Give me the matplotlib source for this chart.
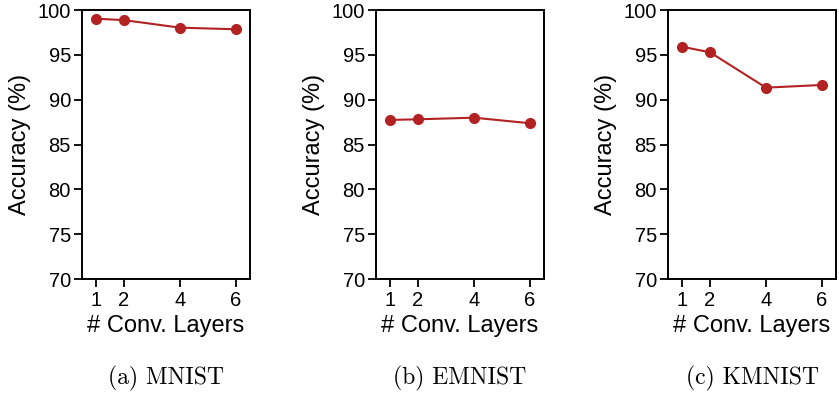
import matplotlib
matplotlib.use("Agg")
import matplotlib.pyplot as plt

layers = [1, 2, 4, 6]
mnist = [99.03, 98.87, 98.03, 97.85]
emnist = [87.74, 87.81, 87.99, 87.37]
kmnist = [95.91, 95.28, 91.34, 91.64]
captions = ["(a) MNIST", "(b) EMNIST", "(c) KMNIST"]
yticks = [70, 75, 80, 85, 90, 95, 100]

plt.rcParams["font.family"] = ["Liberation Sans", "DejaVu Sans"]

fig = plt.figure(figsize=(8.39, 3.95), dpi=100)
lefts = [82 / 839, 376 / 839, 668 / 839]
w = 168 / 839
bottom = 1 - 279 / 395
h = 269 / 395

for left, vals, cap in zip(lefts, [mnist, emnist, kmnist], captions):
    ax = fig.add_axes([left, bottom, w, h])
    ax.plot(layers, vals, color="#b22222", lw=1.5, marker="o", ms=7)
    ax.set_xlim(0.5, 6.5)
    ax.set_ylim(70, 100)
    ax.set_xticks(layers)
    ax.set_yticks(yticks)
    ax.tick_params(labelsize=14.5, length=6, width=1.3, direction="out", pad=2)
    ax.tick_params(axis="x", pad=3)
    for s in ax.spines.values():
        s.set_linewidth(1.4)
    ax.set_ylabel("Accuracy (%)", fontsize=17, labelpad=5)
    ax.set_xlabel("# Conv. Layers", fontsize=17, labelpad=3)
    fig.text(left + w / 2, 1 - 378 / 395, cap, ha="center", va="center",
             fontsize=17, family="cmr10")

fig.savefig("out.png", dpi=100, facecolor="white")
